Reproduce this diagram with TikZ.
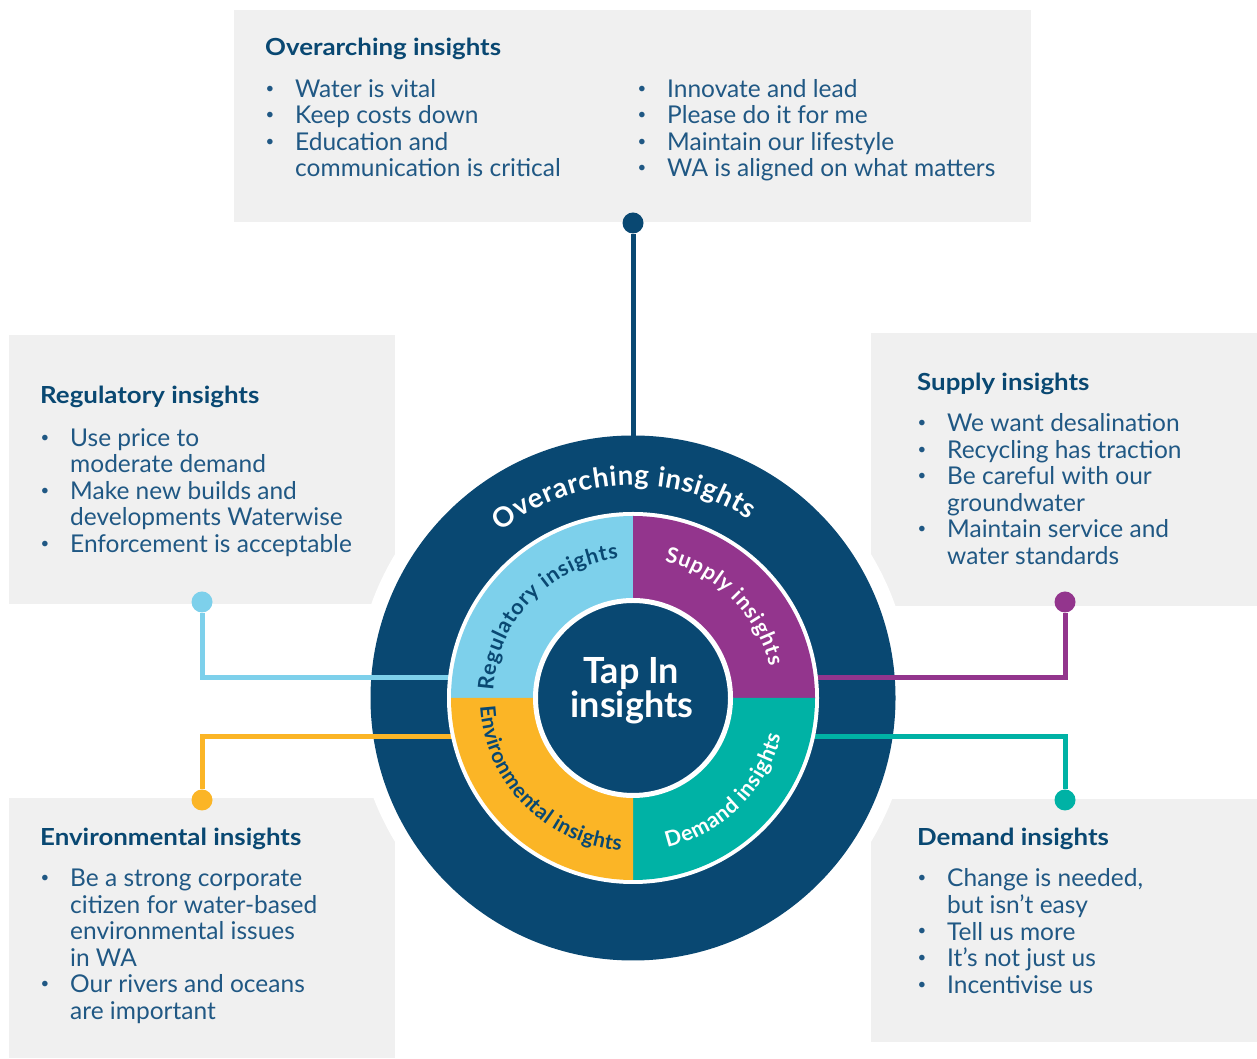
\documentclass[tikz,border=0pt]{standalone}
\usepackage{fontspec}
\setmainfont{Lato}
\newfontfamily\headfont{Lato}[FakeStretch=1.1]
\usetikzlibrary{decorations.text}

\definecolor{wcnavy}{RGB}{9,72,114}
\definecolor{wcbody}{RGB}{32,88,132}
\definecolor{wcsky}{RGB}{125,208,235}
\definecolor{wcplum}{RGB}{147,53,141}
\definecolor{wcteal}{RGB}{0,178,165}
\definecolor{wcgold}{RGB}{251,181,38}
\definecolor{wcpanel}{RGB}{240,240,240}

\newcommand{\itm}{\makebox[30pt][l]{\hspace{0.5pt}\raisebox{4.3pt}{\fontsize{15}{15}\selectfont\textbullet}}}
\newcommand{\cnt}{\hspace*{30pt}}

\tikzset{
  panel/.style={fill=wcpanel},
  heading/.style={anchor=base west, inner sep=0pt, text=wcnavy,
    font=\headfont\fontsize{23.5}{26.5}\selectfont\bfseries},
  itemtext/.style={anchor=base west, inner sep=0pt, text=wcbody,
    font=\fontsize{24.5}{26.5}\selectfont},
  knob/.style={circle, fill=#1, minimum size=21pt, inner sep=0pt},
  link/.style={draw=#1, line width=5pt},
  ringlabel/.style 2 args={decorate, decoration={text along path,
    text align=fit to path, text color=#1, text={#2}}}
}

\begin{document}
\begin{tikzpicture}[x=1pt,y=1pt]
\useasboundingbox (0,0) rectangle (1257,1059);

\coordinate (C) at (633,361);

% grey panels
\fill[panel] (234,837) rectangle (1031,1049);
\fill[panel] (9,455) rectangle (395,724);
\fill[panel] (871,453) rectangle (1257,726);
\fill[panel] (9,1) rectangle (395,261);
\fill[panel] (871,17) rectangle (1257,260);

% white gap round the wheel, then the outer ring
\fill[white] (C) circle[radius=278pt];
\fill[wcnavy] (C) circle[radius=262.5pt];

% connectors
\node[knob=wcnavy] (topdot) at (633,836) {};
\node[knob=wcsky] (regdot) at (202,457) {};
\node[knob=wcplum] (supdot) at (1065,457) {};
\node[knob=wcgold] (envdot) at (202,259) {};
\node[knob=wcteal] (demdot) at (1065,259) {};
\coordinate (topend) at (633,600);
\coordinate (regend) at (470,381);
\coordinate (supend) at (796,381);
\coordinate (envend) at (470,322);
\coordinate (demend) at (796,322);
\draw[link=wcnavy] (topdot) -- (topend);
\draw[link=wcsky] (regdot) |- (regend);
\draw[link=wcplum] (supdot) |- (supend);
\draw[link=wcgold] (envdot) |- (envend);
\draw[link=wcteal] (demdot) |- (demend);

% quarter segments
\fill[white] (C) circle[radius=186pt];
\fill[wcsky] (C) -- ++(180:182pt) arc[start angle=180, end angle=90, radius=182pt] -- cycle;
\fill[wcplum] (C) -- ++(90:182pt) arc[start angle=90, end angle=0, radius=182pt] -- cycle;
\fill[wcteal] (C) -- ++(0:182pt) arc[start angle=0, end angle=-90, radius=182pt] -- cycle;
\fill[wcgold] (C) -- ++(-90:182pt) arc[start angle=-90, end angle=-180, radius=182pt] -- cycle;

% hub
\node[circle, fill=wcnavy, draw=white, line width=5pt, minimum size=195pt, inner sep=0pt] (hub) at (C) {};
\node[anchor=base, text=white, font=\fontsize{36}{34}\selectfont\bfseries] (hubtop) at (631,375) {Tap In};
\node[anchor=base, text=white, font=\fontsize{36}{34}\selectfont\bfseries] (hubbot) at (632,341) {insights};

% curved labels
\path[ringlabel={white}{|\fontsize{27.5}{27.5}\selectfont\bfseries|Overarching insights}]
  ([shift={(128.5:213pt)}]C) arc[start angle=128.5, end angle=57, radius=213pt];
\path[ringlabel={wcnavy}{|\fontsize{21.5}{21.5}\selectfont\bfseries|Regulatory insights}]
  ([shift={(177:140pt)}]C) arc[start angle=177, end angle=96, radius=140pt];
\path[ringlabel={white}{|\fontsize{21.5}{21.5}\selectfont\bfseries|Supply insights}]
  ([shift={(77:140pt)}]C) arc[start angle=77, end angle=13, radius=140pt];
\path[ringlabel={wcnavy}{|\fontsize{21}{21}\selectfont\bfseries|Environmental insights}]
  ([shift={(183:153pt)}]C) arc[start angle=183, end angle=265.5, radius=153pt];
\path[ringlabel={white}{|\fontsize{21.5}{21.5}\selectfont\bfseries|Demand insights}]
  ([shift={(283:153pt)}]C) arc[start angle=283, end angle=346, radius=153pt];

% panel texts
\node[heading] (toptitle) at (265,1003) {Overarching insights};
\node[itemtext] (toplistA) at ([yshift=-41.5pt]toptitle.base west) {\begin{tabular}[t]{@{}l@{}}
\itm Water is vital\\
\itm Keep costs down\\
\itm Education and\\
\cnt communication is critical
\end{tabular}};
\node[itemtext] (toplistB) at (637,961.5) {\begin{tabular}[t]{@{}l@{}}
\itm Innovate and lead\\
\itm Please do it for me\\
\itm Maintain our lifestyle\\
\itm WA is aligned on what matters
\end{tabular}};

\node[heading] (regtitle) at (40,655) {Regulatory insights};
\node[itemtext] (reglist) at ([yshift=-42.5pt]regtitle.base west) {\begin{tabular}[t]{@{}l@{}}
\itm Use price to\\
\cnt moderate demand\\
\itm Make new builds and\\
\cnt developments Waterwise\\
\itm Enforcement is acceptable
\end{tabular}};

\node[heading] (suptitle) at (917,668) {Supply insights};
\node[itemtext] (suplist) at ([yshift=-41pt]suptitle.base west) {\begin{tabular}[t]{@{}l@{}}
\itm We want desalination\\
\itm Recycling has traction\\
\itm Be careful with our\\
\cnt groundwater\\
\itm Maintain service and\\
\cnt water standards
\end{tabular}};

\node[heading] (envtitle) at (40,213) {Environmental insights};
\node[itemtext] (envlist) at ([yshift=-41pt]envtitle.base west) {\begin{tabular}[t]{@{}l@{}}
\itm Be a strong corporate\\
\cnt citizen for water-based\\
\cnt environmental issues\\
\cnt in WA\\
\itm Our rivers and oceans\\
\cnt are important
\end{tabular}};

\node[heading] (demtitle) at (917,213) {Demand insights};
\node[itemtext] (demlist) at ([yshift=-41pt]demtitle.base west) {\begin{tabular}[t]{@{}l@{}}
\itm Change is needed,\\
\cnt but isn’t easy\\
\itm Tell us more\\
\itm It’s not just us\\
\itm Incentivise us
\end{tabular}};

\end{tikzpicture}
\end{document}
